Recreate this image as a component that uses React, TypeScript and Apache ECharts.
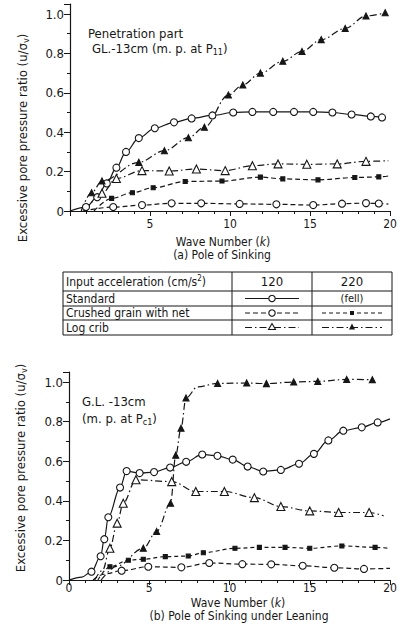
import React, { useEffect, useRef } from "react";
import * as echarts from "echarts";

// ---------- data ----------
const xTicks = [0, 5, 10, 15, 20];
const yTicks = [0, 0.2, 0.4, 0.6, 0.8, 1.0];

// (a) Pole of Sinking
const aStandard120 = [[0,0],[1.0,0.02],[1.7,0.07],[2.3,0.14],[2.9,0.22],[3.5,0.30],[4.3,0.37],[5.3,0.42],[6.5,0.45],[7.6,0.47],[8.9,0.485],[10.2,0.50],[11.4,0.503],[12.7,0.503],[14.0,0.503],[15.2,0.503],[16.4,0.50],[17.6,0.49],[18.8,0.48],[19.5,0.475]];
const aCrushed120 = [[0.8,0],[2.7,0.02],[4.5,0.03],[6.35,0.039],[8.2,0.039],[10.6,0.036],[12.9,0.034],[15.2,0.03],[17.0,0.037],[18.5,0.04],[19.3,0.038],[19.9,0.035]];
const aCrushed220 = [[1.5,0],[2.6,0.064],[3.9,0.093],[5.2,0.118],[7.2,0.15],[9.5,0.152],[11.9,0.172],[13.3,0.163],[15.5,0.158],[17.8,0.17],[19.3,0.173],[19.9,0.178]];
const aLog120 = [[1.0,0],[2.0,0.09],[2.9,0.165],[4.5,0.205],[6.2,0.203],[7.9,0.213],[9.7,0.205],[11.4,0.23],[13.0,0.239],[14.8,0.237],[16.7,0.239],[18.5,0.252],[19.9,0.255]];
const aLog220 = [[0.7,0],[1.35,0.093],[2.0,0.152],[4.3,0.247],[5.9,0.306],[7.4,0.372],[8.4,0.425],[9.9,0.589],[10.8,0.64],[11.9,0.70],[13.3,0.76],[14.5,0.81],[15.7,0.87],[17.2,0.927],[18.5,0.99],[19.7,1.006]];

// (b) Pole of Sinking under Leaning
const bStandard120 = [[0,0],[0.8,0.015],[1.4,0.042],[1.97,0.12],[2.2,0.206],[2.45,0.317],[3.18,0.467],[3.59,0.55],[4.4,0.54],[5.3,0.545],[6.3,0.568],[7.3,0.597],[8.3,0.634],[9.25,0.627],[10.2,0.608],[11.13,0.573],[12.1,0.548],[13.2,0.556],[14.33,0.587],[15.26,0.637],[16.16,0.705],[17.09,0.754],[18.24,0.771],[19.23,0.796],[20.0,0.814]];
const bCrushed120 = [[1.5,0],[2.2,0.03],[3.28,0.047],[4.94,0.067],[7.0,0.064],[8.74,0.086],[10.8,0.08],[12.6,0.079],[14.56,0.072],[16.53,0.062],[18.38,0.056],[20.0,0.059]];
const bCrushed220 = [[1.8,0],[2.55,0.067],[3.7,0.10],[4.63,0.105],[6.0,0.118],[7.43,0.121],[8.37,0.138],[10.34,0.16],[11.86,0.165],[13.46,0.165],[15.0,0.16],[17.0,0.172],[19.07,0.165],[19.96,0.16]];
const bLog120 = [[1.6,0],[2.1,0.05],[2.55,0.16],[3.0,0.287],[3.38,0.388],[4.17,0.506],[6.4,0.497],[7.9,0.447],[9.68,0.447],[11.55,0.416],[13.2,0.371],[15.0,0.349],[16.8,0.341],[18.7,0.341],[19.6,0.324]];
const bLog220 = [[2.0,0],[3.0,0.07],[4.63,0.16],[5.46,0.245],[6.33,0.388],[6.65,0.63],[6.98,0.767],[7.29,0.919],[8.0,0.975],[9.26,0.993],[11.07,0.995],[12.3,0.992],[14.0,1.0],[15.5,1.003],[17.3,1.013],[18.9,1.012]];

const tableRows = ["Standard", "Crushed grain with net", "Log crib"];
const tableHeader = ["Input acceleration (cm/s{sup|2})", "120", "220"];

// ---------- styles ----------
const INK = "#161616";
const FONT = "'DejaVu Sans Condensed', 'Liberation Sans Narrow', 'DejaVu Sans', sans-serif";
const SOLID: any = "solid";
const DASH = [5, 3];
const FINE_DASH = [4, 3];
const DASH_DOT = [7, 3, 1.5, 3];
const Y_MAX = 1.05;

function makeSeries(data: number[][], grid: number, dash: any, symbol: string, size: number, noMark: number[], filled: boolean) {
  return {
    type: "line",
    xAxisIndex: grid,
    yAxisIndex: grid,
    smooth: 0.35,
    smoothMonotone: "x",
    data: data.map((p, i) => (noMark.indexOf(i) >= 0 || (noMark.indexOf(-1) >= 0 && i === data.length - 1)
      ? { value: p, symbol: "none" }
      : { value: p })),
    symbol,
    symbolSize: size,
    showAllSymbol: true,
    lineStyle: { color: INK, width: 1.2, type: dash },
    itemStyle: { color: filled ? INK : "#fff", borderColor: INK, borderWidth: 1.1 },
    z: 3,
  };
}

function axisX(grid: number, showMin: boolean, margin: number) {
  return {
    type: "value", gridIndex: grid, min: 0, max: 20, interval: 5,
    axisLine: { lineStyle: { color: INK, width: 1.2 } },
    axisTick: { show: true, length: 5, lineStyle: { color: INK } },
    minorTick: { show: true, splitNumber: 5, length: 3, lineStyle: { color: INK } },
    splitLine: { show: false },
    axisLabel: { showMinLabel: showMin, color: INK, fontSize: 12, lineHeight: 12, fontFamily: FONT, margin,
      formatter: (v: number) => (xTicks.indexOf(v) >= 0 ? String(v) : "") },
  };
}
function axisY(grid: number) {
  return {
    type: "value", gridIndex: grid, min: 0, max: Y_MAX, interval: 0.2,
    axisLine: { show: true, lineStyle: { color: INK, width: 1.2 } },
    axisTick: { show: true, length: 6, lineStyle: { color: INK } },
    minorTick: { show: true, splitNumber: 2, length: 3, lineStyle: { color: INK } },
    splitLine: { show: false },
    axisLabel: { color: INK, fontSize: 13, fontFamily: FONT, margin: 6, showMaxLabel: false,
      formatter: (v: number) => (yTicks.some((t) => Math.abs(t - v) < 1e-6) ? (v === 0 ? "0" : v.toFixed(1)) : "") },
  };
}

function txt(x: number, y: number, text: string, size: number, align = "left", extra: any = {}) {
  return { type: "text", x, y, style: { text, fontSize: size, lineHeight: size, fontFamily: FONT, fill: INK, align, verticalAlign: "middle", ...extra } };
}
function ln(x1: number, y1: number, x2: number, y2: number, dash: any = null, w = 1) {
  return { type: "line", shape: { x1, y1, x2, y2 }, style: { stroke: INK, lineWidth: w, lineDash: dash } };
}

const subRich = {
  sub: { fontSize: 9, fontFamily: FONT, fill: INK, padding: [8, 0, 0, 0] },
  sup: { fontSize: 8, fontFamily: FONT, fill: INK, padding: [0, 0, 6, 0] },
  i: { fontSize: 12, fontFamily: FONT, fill: INK, fontStyle: "italic" },
};

export default function App() {
  const ref = useRef<HTMLDivElement>(null);
  useEffect(() => {
    if (!ref.current) return;
    const chart = echarts.init(ref.current, null, { renderer: "svg" });

    // table geometry
    const tL = 63, tR = 392, c1 = 232, c2 = 312;
    const rowsY = [272, 291, 306, 320, 335];
    const mid = (i: number) => (rowsY[i] + rowsY[i + 1]) / 2;
    const graphics: any[] = [];
    graphics.push({ type: "rect", shape: { x: tL, y: rowsY[0], width: tR - tL, height: rowsY[4] - rowsY[0] }, style: { stroke: INK, fill: "none", lineWidth: 1 } });
    for (let i = 1; i < 4; i++) graphics.push(ln(tL, rowsY[i], tR, rowsY[i]));
    graphics.push(ln(c1, rowsY[0], c1, rowsY[4]));
    graphics.push(ln(c2, rowsY[0], c2, rowsY[4]));
    graphics.push({ type: "text", x: tL + 3, y: mid(0), style: { text: tableHeader[0], rich: subRich, fontSize: 12, fontFamily: FONT, fill: INK, verticalAlign: "middle" } });
    graphics.push(txt((c1 + c2) / 2, mid(0), tableHeader[1], 13, "center"));
    graphics.push(txt((c2 + tR) / 2, mid(0), tableHeader[2], 13, "center"));
    tableRows.forEach((r, i) => graphics.push(txt(tL + 3, mid(i + 1), r, 12)));
    // legend samples
    const s1 = (c1 + c2) / 2, s2 = (c2 + tR) / 2;
    graphics.push(ln(s1 - 27, mid(1), s1 + 27, mid(1), null, 1.1));
    graphics.push({ type: "circle", shape: { cx: s1, cy: mid(1), r: 3.2 }, style: { fill: "#fff", stroke: INK, lineWidth: 1.1 } });
    graphics.push(txt(s2, mid(1), "(fell)", 11, "center"));
    graphics.push(ln(s1 - 27, mid(2), s1 + 27, mid(2), DASH, 1.1));
    graphics.push({ type: "circle", shape: { cx: s1, cy: mid(2), r: 3.2 }, style: { fill: "#fff", stroke: INK, lineWidth: 1.1 } });
    graphics.push(ln(s2 - 30, mid(2), s2 + 30, mid(2), FINE_DASH, 1.1));
    graphics.push({ type: "rect", shape: { x: s2 - 2, y: mid(2) - 2, width: 4, height: 4 }, style: { fill: INK } });
    graphics.push(ln(s1 - 27, mid(3), s1 + 27, mid(3), DASH_DOT, 1.1));
    graphics.push({ type: "polygon", shape: { points: [[s1, mid(3) - 4], [s1 - 3.5, mid(3) + 2], [s1 + 3.5, mid(3) + 2]] }, style: { fill: "#fff", stroke: INK, lineWidth: 1.1 } });
    graphics.push(ln(s2 - 30, mid(3), s2 + 30, mid(3), DASH_DOT, 1.1));
    graphics.push({ type: "polygon", shape: { points: [[s2, mid(3) - 4], [s2 - 3, mid(3) + 2], [s2 + 3, mid(3) + 2]] }, style: { fill: INK } });

    // annotations and titles
    graphics.push(txt(88, 33, "Penetration part", 13));
    graphics.push({ type: "text", x: 92, y: 48, style: { text: "GL.-13cm (m. p. at P{sub|11})", rich: subRich, fontSize: 13, fontFamily: FONT, fill: INK, verticalAlign: "middle" } });
    graphics.push(txt(82, 401, "G.L. -13cm", 13));
    graphics.push({ type: "text", x: 82, y: 418, style: { text: "(m. p. at P{sub|c1})", rich: subRich, fontSize: 13, fontFamily: FONT, fill: INK, verticalAlign: "middle" } });
    graphics.push({ type: "text", x: 223, y: 242, style: { text: "Wave Number ({i|k})", rich: subRich, fontSize: 12, lineHeight: 12, fontFamily: FONT, fill: INK, align: "center", verticalAlign: "middle" } });
    graphics.push(txt(222, 255, "(a) Pole of Sinking", 12, "center"));
    graphics.push({ type: "text", x: 238, y: 603, style: { text: "Wave Number ({i|k})", rich: subRich, fontSize: 12, lineHeight: 12, fontFamily: FONT, fill: INK, align: "center", verticalAlign: "middle" } });
    graphics.push(txt(239, 616, "(b) Pole of Sinking under Leaning", 12, "center"));
    graphics.push({ type: "text", x: 22, y: 138, rotation: Math.PI / 2, style: { text: "Excessive pore pressure ratio (u/σ{sub|v})", rich: subRich, fontSize: 13, fontFamily: FONT, fill: INK, align: "center", verticalAlign: "middle" } });
    graphics.push({ type: "text", x: 20, y: 468, rotation: Math.PI / 2, style: { text: "Excessive pore pressure ratio (u/σ{sub|v})", rich: subRich, fontSize: 13, fontFamily: FONT, fill: INK, align: "center", verticalAlign: "middle" } });

    // y = 1.0 sits at 14 px (a) and 382 px (b); axes extend to Y_MAX above it
    const hA = 197 * Y_MAX, hB = 198 * Y_MAX;
    chart.setOption({
      animation: false,
      backgroundColor: "#fff",
      grid: [
        { left: 70, top: 211 - hA, width: 320, height: hA, containLabel: false, outerBoundsMode: "none" },
        { left: 69, top: 580 - hB, width: 321, height: hB, containLabel: false, outerBoundsMode: "none" },
      ],
      xAxis: [axisX(0, false, 7), axisX(1, true, 2)],
      yAxis: [axisY(0), axisY(1)],
      series: [
        makeSeries(aStandard120, 0, SOLID, "circle", 7, [0], false),
        makeSeries(aCrushed120, 0, DASH, "circle", 7, [0, -1], false),
        makeSeries(aCrushed220, 0, DASH, "rect", 4, [0, -1], true),
        makeSeries(aLog120, 0, DASH_DOT, "triangle", 8, [0, -1], false),
        makeSeries(aLog220, 0, DASH_DOT, "triangle", 6, [0], true),
        makeSeries(bStandard120, 1, SOLID, "circle", 7, [0, 1, -1], false),
        makeSeries(bCrushed120, 1, DASH, "circle", 7, [0, 1, -1], false),
        makeSeries(bCrushed220, 1, FINE_DASH, "rect", 4, [0, -1], true),
        makeSeries(bLog120, 1, DASH_DOT, "triangle", 8, [0, 1, -1], false),
        makeSeries(bLog220, 1, DASH_DOT, "triangle", 6, [0, 1, 8], true),
      ],
      graphic: graphics,
    });
    return () => chart.dispose();
  }, []);
  return <div ref={ref} style={{ position: "absolute", left: 0, top: 0, width: 402, height: 636 }} />;
}
